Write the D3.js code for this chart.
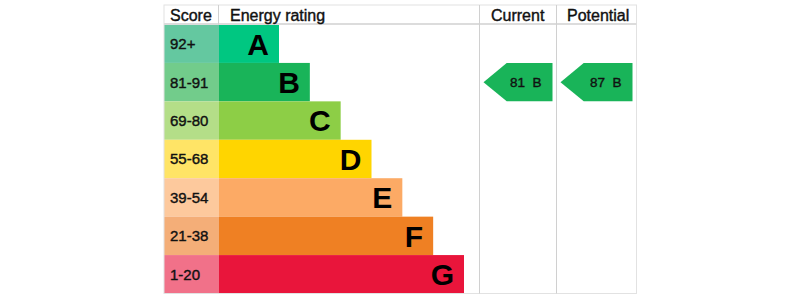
<!DOCTYPE html>
<html>
<head>
<meta charset="utf-8">
<script src="https://cdn.jsdelivr.net/npm/d3@7"></script>
<style>
  body { margin: 0; background: #fff; }
  svg { display: block; font-family: "Liberation Sans", Arial, sans-serif; }
  .medium { stroke: #111; stroke-width: 0.4px; }
</style>
</head>
<body>
<svg id="chart" width="800" height="300"></svg>
<script>
// Energy bands, top (best) to bottom
const bands = ["A", "B", "C", "D", "E", "F", "G"];
const scoreLabels = ["92+", "81-91", "69-80", "55-68", "39-54", "21-38", "1-20"];
const barColors = ["#00c781", "#19b459", "#8dce46", "#ffd500", "#fcaa65", "#ef8023", "#e9153b"];
const scoreColors = ["#64c8a0", "#72cc8b", "#b4de88", "#ffe466", "#fdc99d", "#f4ae78", "#f17189"];
const headers = ["Score", "Energy rating", "Current", "Potential"];
// Current / potential ratings
const ratings = [
  { column: "Current", score: 81, band: "B" },
  { column: "Potential", score: 87, band: "B" }
];

const svg = d3.select("#chart");

const box = { left: 164, right: 636.5, top: 5, header: 24.5, bottom: 293.5 };
const scoreRight = 219, ratingRight = 479.5, currentRight = 556.5;

// rows
const y = d3.scaleBand().domain(bands).range([box.header, box.bottom]).padding(0);
// bar lengths grow by band index
const barEnd = d3.scaleLinear().domain([0, bands.length - 1]).range([279, 464]);

const rows = svg.append("g")
  .selectAll("g")
  .data(bands)
  .enter()
  .append("g");

rows.append("rect")
  .attr("x", box.left)
  .attr("y", d => y(d))
  .attr("width", scoreRight - box.left)
  .attr("height", y.bandwidth())
  .attr("fill", (d, i) => scoreColors[i]);

rows.append("rect")
  .attr("x", scoreRight)
  .attr("y", d => y(d))
  .attr("width", (d, i) => barEnd(i) - scoreRight)
  .attr("height", y.bandwidth())
  .attr("fill", (d, i) => barColors[i]);

rows.append("text")
  .attr("class", "medium")
  .attr("x", box.left + 6)
  .attr("y", d => y(d) + y.bandwidth() / 2)
  .attr("dy", "0.36em")
  .attr("font-size", "15px")
  .attr("fill", "#111")
  .text((d, i) => scoreLabels[i]);

rows.append("text")
  .attr("x", (d, i) => barEnd(i) - 10)
  .attr("y", d => y(d) + y.bandwidth() / 2)
  .attr("dy", "0.36em")
  .attr("text-anchor", "end")
  .attr("font-size", "30px")
  .attr("font-weight", "bold")
  .attr("fill", "#000")
  .text(d => d);

// grid lines
const lineColor = "#d0d0d0";
svg.append("rect")
  .attr("x", box.left).attr("y", box.top)
  .attr("width", box.right - box.left).attr("height", box.bottom - box.top)
  .attr("fill", "none").attr("stroke", "#e2e2e2").attr("stroke-width", 1);
svg.append("line")
  .attr("x1", box.left).attr("x2", box.right)
  .attr("y1", box.header - 0.5).attr("y2", box.header - 0.5)
  .attr("stroke", "#dcdcdc").attr("stroke-width", 2);
svg.append("line")
  .attr("x1", scoreRight - 0.5).attr("x2", scoreRight - 0.5)
  .attr("y1", box.top).attr("y2", box.header)
  .attr("stroke", lineColor);
[ratingRight, currentRight].forEach(x => {
  svg.append("line")
    .attr("x1", x).attr("x2", x).attr("y1", box.top).attr("y2", box.bottom)
    .attr("stroke", lineColor);
});

// header text
const headerX = [170, 230, 491, 567];
svg.append("g")
  .selectAll("text")
  .data(headers)
  .enter()
  .append("text")
  .attr("class", "medium")
  .attr("x", (d, i) => headerX[i])
  .attr("y", 15)
  .attr("dy", "0.36em")
  .attr("font-size", "16px")
  .attr("fill", "#111")
  .text(d => d);

// rating arrows
const colBounds = { Current: [ratingRight, currentRight], Potential: [currentRight, box.right] };
ratings.forEach(r => {
  const [cx0, cx1] = colBounds[r.column];
  const x0 = cx0 + 4, x1 = cx1 - 4;
  const y0 = y(r.band), y1 = y(r.band) + y.bandwidth();
  const h = y1 - y0;
  const tip = h / 2 + 4;
  const g = svg.append("g");
  g.append("path")
    .attr("d", `M${x0},${y0 + h / 2} L${x0 + tip},${y0} L${x1},${y0} L${x1},${y1} L${x0 + tip},${y1} Z`)
    .attr("fill", barColors[bands.indexOf(r.band)]);
  g.append("text")
    .attr("class", "medium")
    .attr("x", x1 - 11)
    .attr("y", y0 + h / 2)
    .attr("dy", "0.36em")
    .attr("text-anchor", "end")
    .attr("font-size", "13.5px")
    .attr("fill", "#111")
    .attr("xml:space", "preserve")
    .style("white-space", "pre")
    .text(`${r.score}  ${r.band}`);
});
</script>
</body>
</html>
